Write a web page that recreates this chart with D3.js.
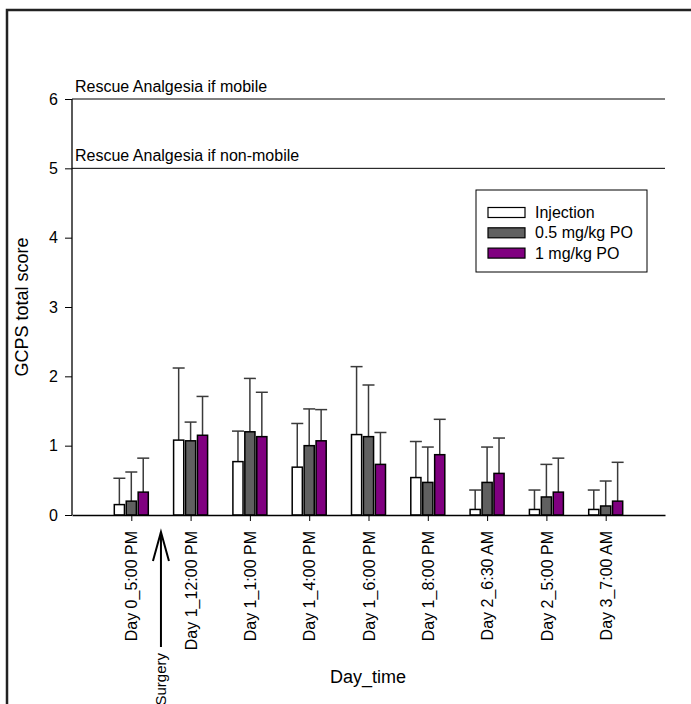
<!DOCTYPE html>
<html>
<head>
<meta charset="utf-8">
<script src="https://cdn.jsdelivr.net/npm/d3@7"></script>
<style>
  body { margin: 0; background: #fff; }
  text { font-family: Arial, "Liberation Sans", sans-serif; }
</style>
</head>
<body>
<div id="canvas"></div>
<script>
"use strict"

/* Data */
let categories = ["Day 0_5:00 PM", "Day 1_12:00 PM", "Day 1_1:00 PM", "Day 1_4:00 PM",
    "Day 1_6:00 PM", "Day 1_8:00 PM", "Day 2_6:30 AM", "Day 2_5:00 PM", "Day 3_7:00 AM"];
let seriesNames = ["Injection", "0.5 mg/kg PO", "1 mg/kg PO"];
let injection    = [0.15, 1.08, 0.77, 0.69, 1.16, 0.54, 0.08, 0.08, 0.08];
let injectionErr = [0.53, 2.12, 1.21, 1.32, 2.14, 1.06, 0.36, 0.36, 0.36];
let po05         = [0.20, 1.07, 1.20, 1.00, 1.13, 0.47, 0.47, 0.26, 0.13];
let po05Err      = [0.62, 1.34, 1.97, 1.53, 1.875, 0.98, 0.98, 0.73, 0.49];
let po1          = [0.33, 1.15, 1.13, 1.07, 0.73, 0.87, 0.60, 0.33, 0.20];
let po1Err       = [0.82, 1.71, 1.77, 1.52, 1.19, 1.38, 1.11, 0.82, 0.76];
let yTicks = [0, 1, 2, 3, 4, 5, 6];
let rescueLines = [
    { value: 6, label: "Rescue Analgesia if mobile" },
    { value: 5, label: "Rescue Analgesia if non-mobile" }
];

/* Drawing configuration */
let svgWidth = 691;
let svgHeight = 704;
let plotLeft = 72, plotRight = 665, plotTop = 99, plotBottom = 515;
let colors = ["#ffffff", "#606060", "#800080"];

let svg = d3.select("#canvas")
    .append("svg")
    .attr("width", svgWidth)
    .attr("height", svgHeight);

/* outer frame */
svg.append("rect")
    .attr("x", 7)
    .attr("y", 10)
    .attr("width", 720)
    .attr("height", 720)
    .attr("fill", "none")
    .attr("stroke", "#222")
    .attr("stroke-width", 2.5);

let xScale = d3.scalePoint()
    .domain(categories)
    .range([plotLeft, plotRight])
    .padding(1);

let yScale = d3.scaleLinear()
    .domain([0, 6])
    .range([plotBottom, plotTop]);

let subScale = d3.scaleBand()
    .domain(seriesNames)
    .range([-17, 17])
    .paddingInner(0.15);

/* table built from the arrays */
let means = [injection, po05, po1];
let errs = [injectionErr, po05Err, po1Err];
let barData = [];
seriesNames.forEach(function (s, si) {
    categories.forEach(function (c, ci) {
        barData.push({ cat: c, series: s, si: si, value: means[si][ci], top: errs[si][ci] });
    });
});

/* rescue lines */
svg.selectAll(".rescue")
    .data(rescueLines)
    .join("line")
    .attr("x1", plotLeft)
    .attr("x2", plotRight)
    .attr("y1", d => yScale(d.value))
    .attr("y2", d => yScale(d.value))
    .attr("stroke", "#000")
    .attr("stroke-width", 1);

svg.selectAll(".rescueLabel")
    .data(rescueLines)
    .join("text")
    .attr("x", plotLeft + 3)
    .attr("y", d => yScale(d.value) - 7)
    .attr("font-size", 16)
    .text(d => d.label);

/* error bars (upper only) */
let errG = svg.append("g");
errG.selectAll("line.err")
    .data(barData)
    .join("line")
    .attr("x1", d => xScale(d.cat) + subScale(d.series) + subScale.bandwidth() / 2)
    .attr("x2", d => xScale(d.cat) + subScale(d.series) + subScale.bandwidth() / 2)
    .attr("y1", d => yScale(d.value))
    .attr("y2", d => yScale(d.top))
    .attr("stroke", "#3a3a3a")
    .attr("stroke-width", 1.5);

errG.selectAll("line.cap")
    .data(barData)
    .join("line")
    .attr("x1", d => xScale(d.cat) + subScale(d.series) + subScale.bandwidth() / 2 - 6)
    .attr("x2", d => xScale(d.cat) + subScale(d.series) + subScale.bandwidth() / 2 + 6)
    .attr("y1", d => yScale(d.top))
    .attr("y2", d => yScale(d.top))
    .attr("stroke", "#3a3a3a")
    .attr("stroke-width", 1.5);

/* bars */
svg.append("g")
    .selectAll("rect")
    .data(barData)
    .join("rect")
    .attr("x", d => xScale(d.cat) + subScale(d.series))
    .attr("y", d => yScale(d.value))
    .attr("width", subScale.bandwidth())
    .attr("height", d => yScale(0) - yScale(d.value))
    .attr("fill", d => colors[d.si])
    .attr("stroke", "#000")
    .attr("stroke-width", 1.5);

/* y axis */
let yAxis = svg.append("g")
    .attr("transform", "translate(" + plotLeft + ",0)")
    .call(d3.axisLeft(yScale).tickValues(yTicks).tickSize(7).tickPadding(7).tickFormat(d3.format("d")));
yAxis.select(".domain").attr("stroke", "#000").attr("stroke-width", 1.3).attr("d", "M0," + plotBottom + "V" + plotTop);
yAxis.selectAll("text").attr("font-size", 16).attr("font-family", "Arial, 'Liberation Sans', sans-serif").attr("fill", "#000");

/* x axis */
let xAxis = svg.append("g")
    .attr("transform", "translate(0," + plotBottom + ")")
    .call(d3.axisBottom(xScale).tickSize(6).tickSizeOuter(0));
xAxis.select(".domain").attr("stroke", "#000").attr("stroke-width", 1.3);
xAxis.selectAll("text")
    .attr("font-size", 16)
    .attr("font-family", "Arial, 'Liberation Sans', sans-serif")
    .attr("fill", "#000")
    .attr("text-anchor", "end")
    .attr("transform", "rotate(-90)")
    .attr("x", -16)
    .attr("y", 0)
    .attr("dy", "0.35em");

/* axis titles */
svg.append("text")
    .attr("transform", "translate(28,307) rotate(-90)")
    .attr("text-anchor", "middle")
    .attr("font-size", 18)
    .text("GCPS total score");

svg.append("text")
    .attr("x", 368)
    .attr("y", 683)
    .attr("text-anchor", "middle")
    .attr("font-size", 18)
    .text("Day_time");

/* surgery arrow between the first two categories */
let surgeryX = (xScale(categories[0]) + xScale(categories[1])) / 2;
svg.append("line")
    .attr("x1", surgeryX).attr("x2", surgeryX)
    .attr("y1", 532).attr("y2", 647)
    .attr("stroke", "#000").attr("stroke-width", 2);
svg.append("path")
    .attr("d", "M" + (surgeryX - 8) + ",561L" + surgeryX + ",532L" + (surgeryX + 8) + ",561")
    .attr("fill", "none")
    .attr("stroke", "#000")
    .attr("stroke-width", 2);
svg.append("text")
    .attr("transform", "translate(" + surgeryX + ",653) rotate(-90)")
    .attr("text-anchor", "end")
    .attr("dy", "0.35em")
    .attr("font-size", 15)
    .text("Surgery");

/* legend */
let legendX = 476, legendY = 190;
svg.append("rect")
    .attr("x", legendX)
    .attr("y", legendY)
    .attr("width", 171)
    .attr("height", 82)
    .attr("fill", "#fff")
    .attr("stroke", "#000")
    .attr("stroke-width", 1);

let legendItems = svg.append("g")
    .selectAll("g")
    .data(seriesNames)
    .join("g")
    .attr("transform", (d, i) => "translate(" + (legendX + 12) + "," + (legendY + 22.5 + i * 20.3) + ")");
legendItems.append("rect")
    .attr("x", 0)
    .attr("y", -5)
    .attr("width", 37)
    .attr("height", 10)
    .attr("fill", (d, i) => colors[i])
    .attr("stroke", "#000")
    .attr("stroke-width", 1.2);
legendItems.append("text")
    .attr("x", 47)
    .attr("dy", "0.35em")
    .attr("font-size", 16)
    .text(d => d);
</script>
</body>
</html>
